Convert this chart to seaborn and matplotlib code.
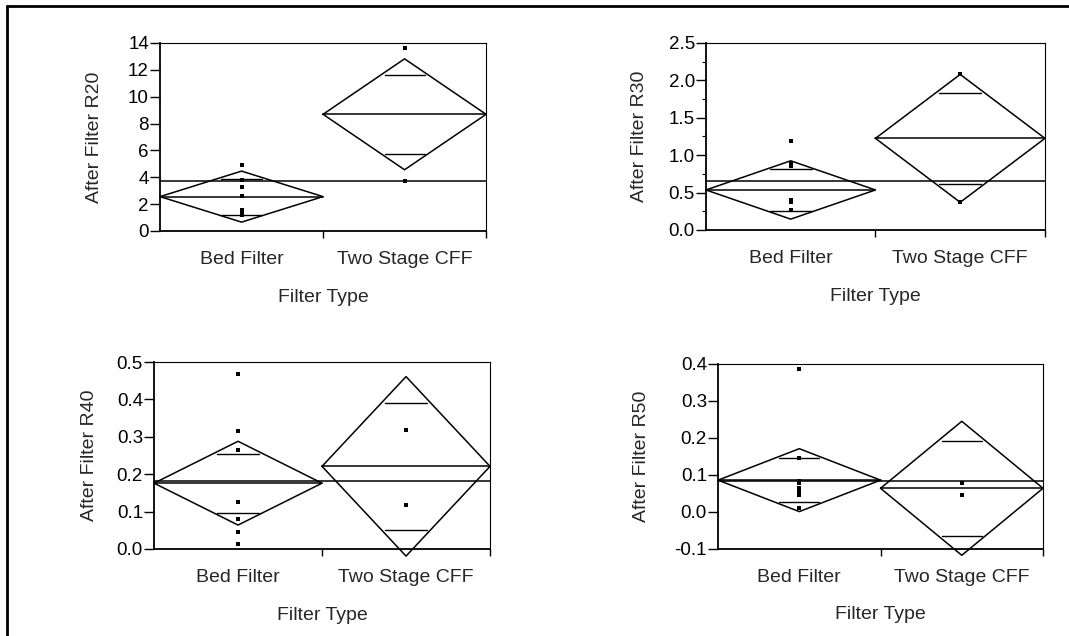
import matplotlib
matplotlib.use('Agg')
import matplotlib.pyplot as plt
from matplotlib.lines import Line2D
from matplotlib.ticker import FixedLocator, FixedFormatter, FormatStrFormatter
import seaborn as sns
import pandas as pd
import numpy as np

# categories on the x axis
categories = ['Bed Filter', 'Two Stage CFF']

# R20 panel
r20_bed = [4.9, 3.8, 3.3, 2.6, 1.6, 1.4, 1.2]
r20_cff = [13.62, 3.75]
r20_means = [2.56, 8.69]
r20_ci = [1.90, 4.13]
r20_grand = 3.72

# R30 panel
r30_bed = [1.19, 0.89, 0.86, 0.40, 0.38, 0.27]
r30_cff = [2.08, 0.37]
r30_means = [0.535, 1.225]
r30_ci = [0.39, 0.855]
r30_grand = 0.66

# R40 panel
r40_bed = [0.469, 0.316, 0.266, 0.127, 0.080, 0.046, 0.014]
r40_cff = [0.318, 0.118]
r40_means = [0.176, 0.221]
r40_ci = [0.112, 0.240]
r40_grand = 0.182

# R50 panel
r50_bed = [0.386, 0.147, 0.085, 0.078, 0.065, 0.056, 0.046, 0.012]
r50_cff = [0.079, 0.045]
r50_means = [0.086, 0.064]
r50_ci = [0.085, 0.181]
r50_grand = 0.083

# y axis settings per panel
r20_yticks = [0, 2, 4, 6, 8, 10, 12, 14]
r30_yticks = [0.0, 0.5, 1.0, 1.5, 2.0, 2.5]
r40_yticks = [0.0, 0.1, 0.2, 0.3, 0.4, 0.5]
r50_yticks = [-0.1, 0.0, 0.1, 0.2, 0.3, 0.4]

sns.set_style('white')
plt.rcParams['font.family'] = ['Liberation Sans', 'DejaVu Sans']
FS = 14      # axis labels and category names
TFS = 13.5   # y tick labels


def means_diamond_panel(ax, bed, cff, means, ci, grand, yticks, fmt, ylabel,
                        ylab_x, minor=None):
    df = pd.DataFrame({
        'x': [0.5] * len(bed) + [1.5] * len(cff),
        'y': list(bed) + list(cff),
    })
    sns.scatterplot(data=df, x='x', y='y', marker='s', s=7, color='black',
                    edgecolor='black', linewidth=0, ax=ax, zorder=5)

    for i, (m, c) in enumerate(zip(means, ci)):
        x0, xc, x1 = i, i + 0.5, i + 1
        # diamond outline
        ax.plot([x0, xc, x1, xc, x0], [m, m + c, m, m - c, m],
                color='black', lw=1.1, clip_on=False, zorder=3)
        # mean line
        ax.plot([x0, x1], [m, m], color='black', lw=1.1, zorder=3)
        # overlap marks
        d = c / np.sqrt(2)
        hw = 0.42 * (1 - d / c)
        for yy in (m + d, m - d):
            ax.plot([xc - hw, xc + hw], [yy, yy], color='black', lw=1.0,
                    zorder=3)

    # grand mean
    ax.axhline(grand, color='black', lw=1.1, zorder=2)

    ax.set_xlim(0, 2)
    ax.set_ylim(yticks[0], yticks[-1])
    ax.set_yticks(yticks)
    ax.yaxis.set_major_formatter(FormatStrFormatter(fmt))
    if minor is not None:
        ax.yaxis.set_minor_locator(FixedLocator(minor))
        ax.tick_params(axis='y', which='minor', direction='out', length=3,
                       width=0.8, left=True, colors='black')

    ax.xaxis.set_major_locator(FixedLocator([1, 2]))
    ax.xaxis.set_major_formatter(FixedFormatter(['', '']))
    ax.xaxis.set_minor_locator(FixedLocator([0.5, 1.5]))
    ax.xaxis.set_minor_formatter(FixedFormatter(categories))
    ax.tick_params(axis='x', which='major', direction='out', length=5,
                   width=1.0, bottom=True, colors='black')
    ax.tick_params(axis='x', which='minor', length=0, pad=14.5,
                   labelsize=FS, bottom=True)
    ax.tick_params(axis='y', which='major', direction='out', length=7,
                   width=1.0, left=True, labelsize=TFS, pad=1,
                   colors='black')

    ax.set_xlabel('Filter Type', fontsize=FS)
    ax.set_ylabel(ylabel, fontsize=FS)
    ax.xaxis.set_label_coords(0.5, -0.31)
    ax.yaxis.set_label_coords(ylab_x, 0.5)

    for side, sp in ax.spines.items():
        sp.set_visible(True)
        sp.set_color('black')
        sp.set_linewidth(1.3 if side in ('left', 'bottom') else 0.8)


fig = plt.figure(figsize=(10.69, 6.36), dpi=100)
ax1 = fig.add_axes([0.1497, 0.6368, 0.3050, 0.2956])
ax2 = fig.add_axes([0.6604, 0.6384, 0.3171, 0.2940])
ax3 = fig.add_axes([0.1441, 0.1368, 0.3143, 0.2940])
ax4 = fig.add_axes([0.6717, 0.1368, 0.3040, 0.2910])

means_diamond_panel(ax1, r20_bed, r20_cff, r20_means, r20_ci, r20_grand,
                    r20_yticks, '%d', 'After Filter R20', -57 / 326)
means_diamond_panel(ax2, r30_bed, r30_cff, r30_means, r30_ci, r30_grand,
                    r30_yticks, '%.1f', 'After Filter R30', -58 / 339,
                    minor=[0.25, 0.75, 1.25, 1.75, 2.25])
means_diamond_panel(ax3, r40_bed, r40_cff, r40_means, r40_ci, r40_grand,
                    r40_yticks, '%.1f', 'After Filter R40', -56 / 336)
means_diamond_panel(ax4, r50_bed, r50_cff, r50_means, r50_ci, r50_grand,
                    r50_yticks, '%.1f', 'After Filter R50', -68 / 325)

# page frame (top and left edges)
fig.add_artist(Line2D([7 / 1069, 1.0], [1 - 6 / 636, 1 - 6 / 636],
                      color='black', lw=2, transform=fig.transFigure))
fig.add_artist(Line2D([7 / 1069, 7 / 1069], [0.0, 1 - 6 / 636],
                      color='black', lw=2, transform=fig.transFigure))

fig.savefig('out.png', dpi=100, facecolor='white')
plt.close(fig)
